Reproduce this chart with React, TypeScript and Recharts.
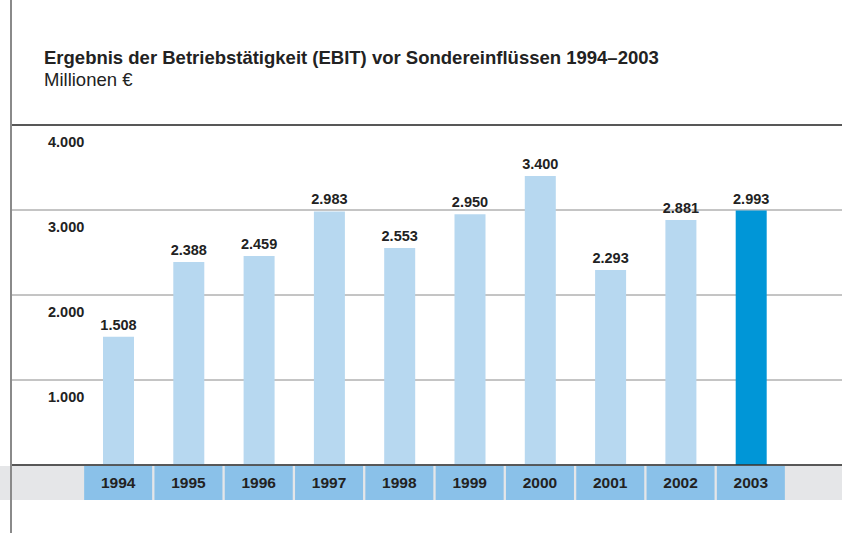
import React from "react";
import { BarChart, Bar, XAxis, YAxis, CartesianGrid, ReferenceLine, Cell, LabelList } from "recharts";

const YEARS = ["1994", "1995", "1996", "1997", "1998", "1999", "2000", "2001", "2002", "2003"];
const EBIT = [1508, 2388, 2459, 2983, 2553, 2950, 3400, 2293, 2881, 2993];
const Y_TICKS = [0, 1000, 2000, 3000, 4000];

const data = YEARS.map((year, i) => ({ year, value: EBIT[i] }));

const FONT = "'Liberation Sans', Arial, Helvetica, sans-serif";
const LIGHT = "#b7d8f0";
const DARK = "#0096d7";
const BOX = "#8ac1e9";

const fmt = (v: number) => v.toLocaleString("de-DE");

function YTick({ y, payload }: any) {
    if (payload.value === 0) return null;
    return (
        <text x={48} y={y + 22} fontFamily={FONT} fontSize={14.5} fontWeight="bold" fill="#222">
            {fmt(payload.value)}
        </text>
    );
}

function XTick({ x, y, payload }: any) {
    return (
        <g>
            <rect x={x - 34} y={y + 1} width={68} height={34} fill={BOX} />
            <text x={x} y={y + 23} textAnchor="middle" fontFamily={FONT} fontSize={15.5} fontWeight="bold" fill="#222">
                {payload.value}
            </text>
        </g>
    );
}

function ValueLabel({ x, y, width, value }: any) {
    return (
        <text x={x + width / 2} y={y - 7} textAnchor="middle" fontFamily={FONT} fontSize={14.5} fontWeight="bold" fill="#222">
            {fmt(value)}
        </text>
    );
}

export default function App() {
    return (
        <div style={{ position: "absolute", left: 0, top: 0, width: 842, height: 534, background: "#fff", fontFamily: FONT }}>
            {/* grey band behind the year boxes */}
            <div style={{ position: "absolute", left: 0, top: 466, width: 842, height: 34, background: "#e5e6e8" }} />
            <div style={{ position: "absolute", left: 44, top: 49, fontSize: 18.5, lineHeight: "18.5px", fontWeight: "bold", color: "#222", whiteSpace: "nowrap" }}>
                Ergebnis der Betriebstätigkeit (EBIT) vor Sondereinflüssen 1994–2003
            </div>
            <div style={{ position: "absolute", left: 44, top: 71, fontSize: 18.5, lineHeight: "18.5px", color: "#222" }}>Millionen €</div>
            <div style={{ position: "absolute", left: 0, top: 0 }}>
                <BarChart width={842} height={534} data={data} margin={{ top: 125, right: 0, bottom: 39, left: 9 }}>
                    <CartesianGrid horizontal vertical={false} stroke="#8a8a8a" strokeWidth={1} />
                    <YAxis
                        domain={[0, 4000]}
                        ticks={Y_TICKS}
                        width={1}
                        axisLine={false}
                        tickLine={false}
                        tick={<YTick />}
                    />
                    <XAxis
                        dataKey="year"
                        padding={{ left: 73, right: 56 }}
                        axisLine={{ stroke: "#333", strokeWidth: 1.5 }}
                        tickLine={false}
                        tickSize={0}
                        tickMargin={0}
                        interval={0}
                        tick={<XTick />}
                    />
                    <ReferenceLine y={4000} stroke="#333" strokeWidth={1.5} />
                    <Bar dataKey="value" barSize={31} isAnimationActive={false}>
                        {data.map((d, i) => (
                            <Cell key={d.year} fill={i === data.length - 1 ? DARK : LIGHT} />
                        ))}
                        <LabelList dataKey="value" content={<ValueLabel />} />
                    </Bar>
                </BarChart>
            </div>
            {/* left frame line */}
            <div style={{ position: "absolute", left: 10, top: 0, width: 1.5, height: 533, background: "#8a8a8a" }} />
        </div>
    );
}
